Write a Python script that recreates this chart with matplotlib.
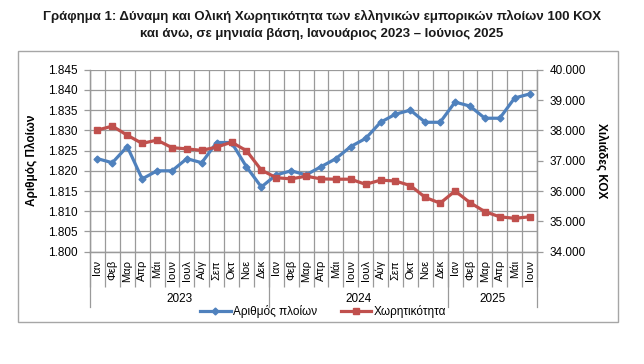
import matplotlib.pyplot as plt
import matplotlib.transforms as mtransforms
from matplotlib.patches import Rectangle
from matplotlib.lines import Line2D

plt.rcParams['font.family'] = ['Liberation Sans', 'DejaVu Sans']

# months Jan 2023 - Jun 2025
months = ['Ιαν', 'Φεβ', 'Μαρ', 'Απρ', 'Μάι', 'Ιουν', 'Ιουλ', 'Αύγ', 'Σεπ', 'Οκτ', 'Νοε', 'Δεκ',
          'Ιαν', 'Φεβ', 'Μαρ', 'Απρ', 'Μάι', 'Ιουν', 'Ιουλ', 'Αύγ', 'Σεπ', 'Οκτ', 'Νοε', 'Δεκ',
          'Ιαν', 'Φεβ', 'Μαρ', 'Απρ', 'Μάι', 'Ιουν']
years = ['2023', '2024', '2025']
year_months = [12, 12, 6]

# number of ships (left axis)
ships = [1823, 1822, 1826, 1818, 1820, 1820, 1823, 1822, 1827, 1827, 1821, 1816,
         1819, 1820, 1819, 1821, 1823, 1826, 1828, 1832, 1834, 1835, 1832, 1832,
         1837, 1836, 1833, 1833, 1838, 1839]
# capacity, thousand GT (right axis)
capacity = [38010, 38140, 37840, 37570, 37680, 37430, 37390, 37340, 37450, 37610, 37330, 36690,
            36440, 36400, 36490, 36400, 36390, 36390, 36220, 36360, 36330, 36180, 35790, 35600,
            36000, 35620, 35320, 35150, 35100, 35150]

W, H = 644, 364
fig = plt.figure(figsize=(W / 100, H / 100), dpi=100)

def fx(px):
    return px / W

def fy(py):
    return 1 - py / H

grey = '#9A9A9A'
blue = '#4F81BD'
red = '#C0504D'

# chart frame
fig.patches.append(Rectangle((fx(18), fy(322)), fx(618) - fx(18), fy(51) - fy(322),
                             transform=fig.transFigure, fill=False, edgecolor='#A6A6A6', lw=1))

fig.text(fx(322), fy(16), 'Γράφημα 1: Δύναμη και Ολική Χωρητικότητα των ελληνικών εμπορικών πλοίων 100 ΚΟΧ',
         ha='center', va='center', fontsize=9.5, fontweight='bold', color='#1A1A1A')
fig.text(fx(322), fy(34), 'και άνω, σε μηνιαία βάση, Ιανουάριος 2023 – Ιούνιος 2025',
         ha='center', va='center', fontsize=9.5, fontweight='bold', color='#1A1A1A')

ax = fig.add_axes([fx(90), fy(251.7), fx(537) - fx(90), fy(69.7) - fy(251.7)])
ax2 = ax.twinx()

x = list(range(len(months)))
ax.plot(x, ships, color=blue, lw=2.3, marker='D', markersize=3.5, zorder=3)
ax2.plot(x, capacity, color=red, lw=2.3, marker='s', markersize=5, zorder=3)

ax.set_xlim(-0.5, len(months) - 0.5)
ax.set_ylim(1800, 1845)
ax2.set_ylim(34000, 40000)

ax.set_yticks(range(1800, 1846, 5))
ax.set_yticklabels([f'{v / 1000:.3f}' for v in range(1800, 1846, 5)], fontsize=8.5)
ax2.set_yticks(range(34000, 40001, 1000))
ax2.set_yticklabels([f'{v:,.0f}'.replace(',', '.') for v in range(34000, 40001, 1000)], fontsize=8.5)

ax.set_xticks(x)
ax.set_xticklabels(months, rotation=90, fontsize=8)
ax.set_xticks([i - 0.5 for i in range(len(months) + 1)], minor=True)
ax.tick_params(axis='x', which='major', length=0, pad=6)
ax.tick_params(axis='x', which='minor', length=25, color=grey, width=0.9)
ax.tick_params(axis='y', length=4, color=grey, width=0.9, pad=5)
ax2.tick_params(axis='y', length=4, color=grey, width=0.9, pad=5)

ax.grid(True, which='minor', axis='x', color=grey, lw=0.9)
ax.grid(True, which='major', axis='y', color=grey, lw=0.9)
ax.set_axisbelow(True)

for a in (ax, ax2):
    a.spines['top'].set_visible(False)
    for s in ('left', 'right', 'bottom'):
        a.spines[s].set_color(grey)
        a.spines[s].set_linewidth(0.9)

ax.set_ylabel('Αριθμός Πλοίων', fontsize=8.5, fontweight='bold', labelpad=7)
ax2.set_ylabel('Χιλιάδες ΚΟΧ', fontsize=8.5, fontweight='bold', rotation=270, labelpad=16)

# year level of category axis
trans = mtransforms.blended_transform_factory(ax.transData, fig.transFigure)
start = -0.5
for yr, n in zip(years, year_months):
    ax.text(start + n / 2, fy(299), yr, transform=trans, ha='center', va='center', fontsize=8.5)
    start += n
bounds = [-0.5]
for n in year_months:
    bounds.append(bounds[-1] + n)
for b in bounds:
    fig.add_artist(Line2D([b, b], [fy(251.7), fy(307)], transform=trans, color=grey, lw=0.9))

handles = [Line2D([], [], color=blue, lw=2.3, marker='D', markersize=3.5),
           Line2D([], [], color=red, lw=2.3, marker='s', markersize=5)]
fig.legend(handles, ['Αριθμός πλοίων', 'Χωρητικότητα'], loc='center', ncol=2,
           bbox_to_anchor=(fx(323), fy(312)), frameon=False, fontsize=8.5,
           handlelength=2.6, handletextpad=0.2, columnspacing=2.0)

fig.savefig('out.png', dpi=100)
